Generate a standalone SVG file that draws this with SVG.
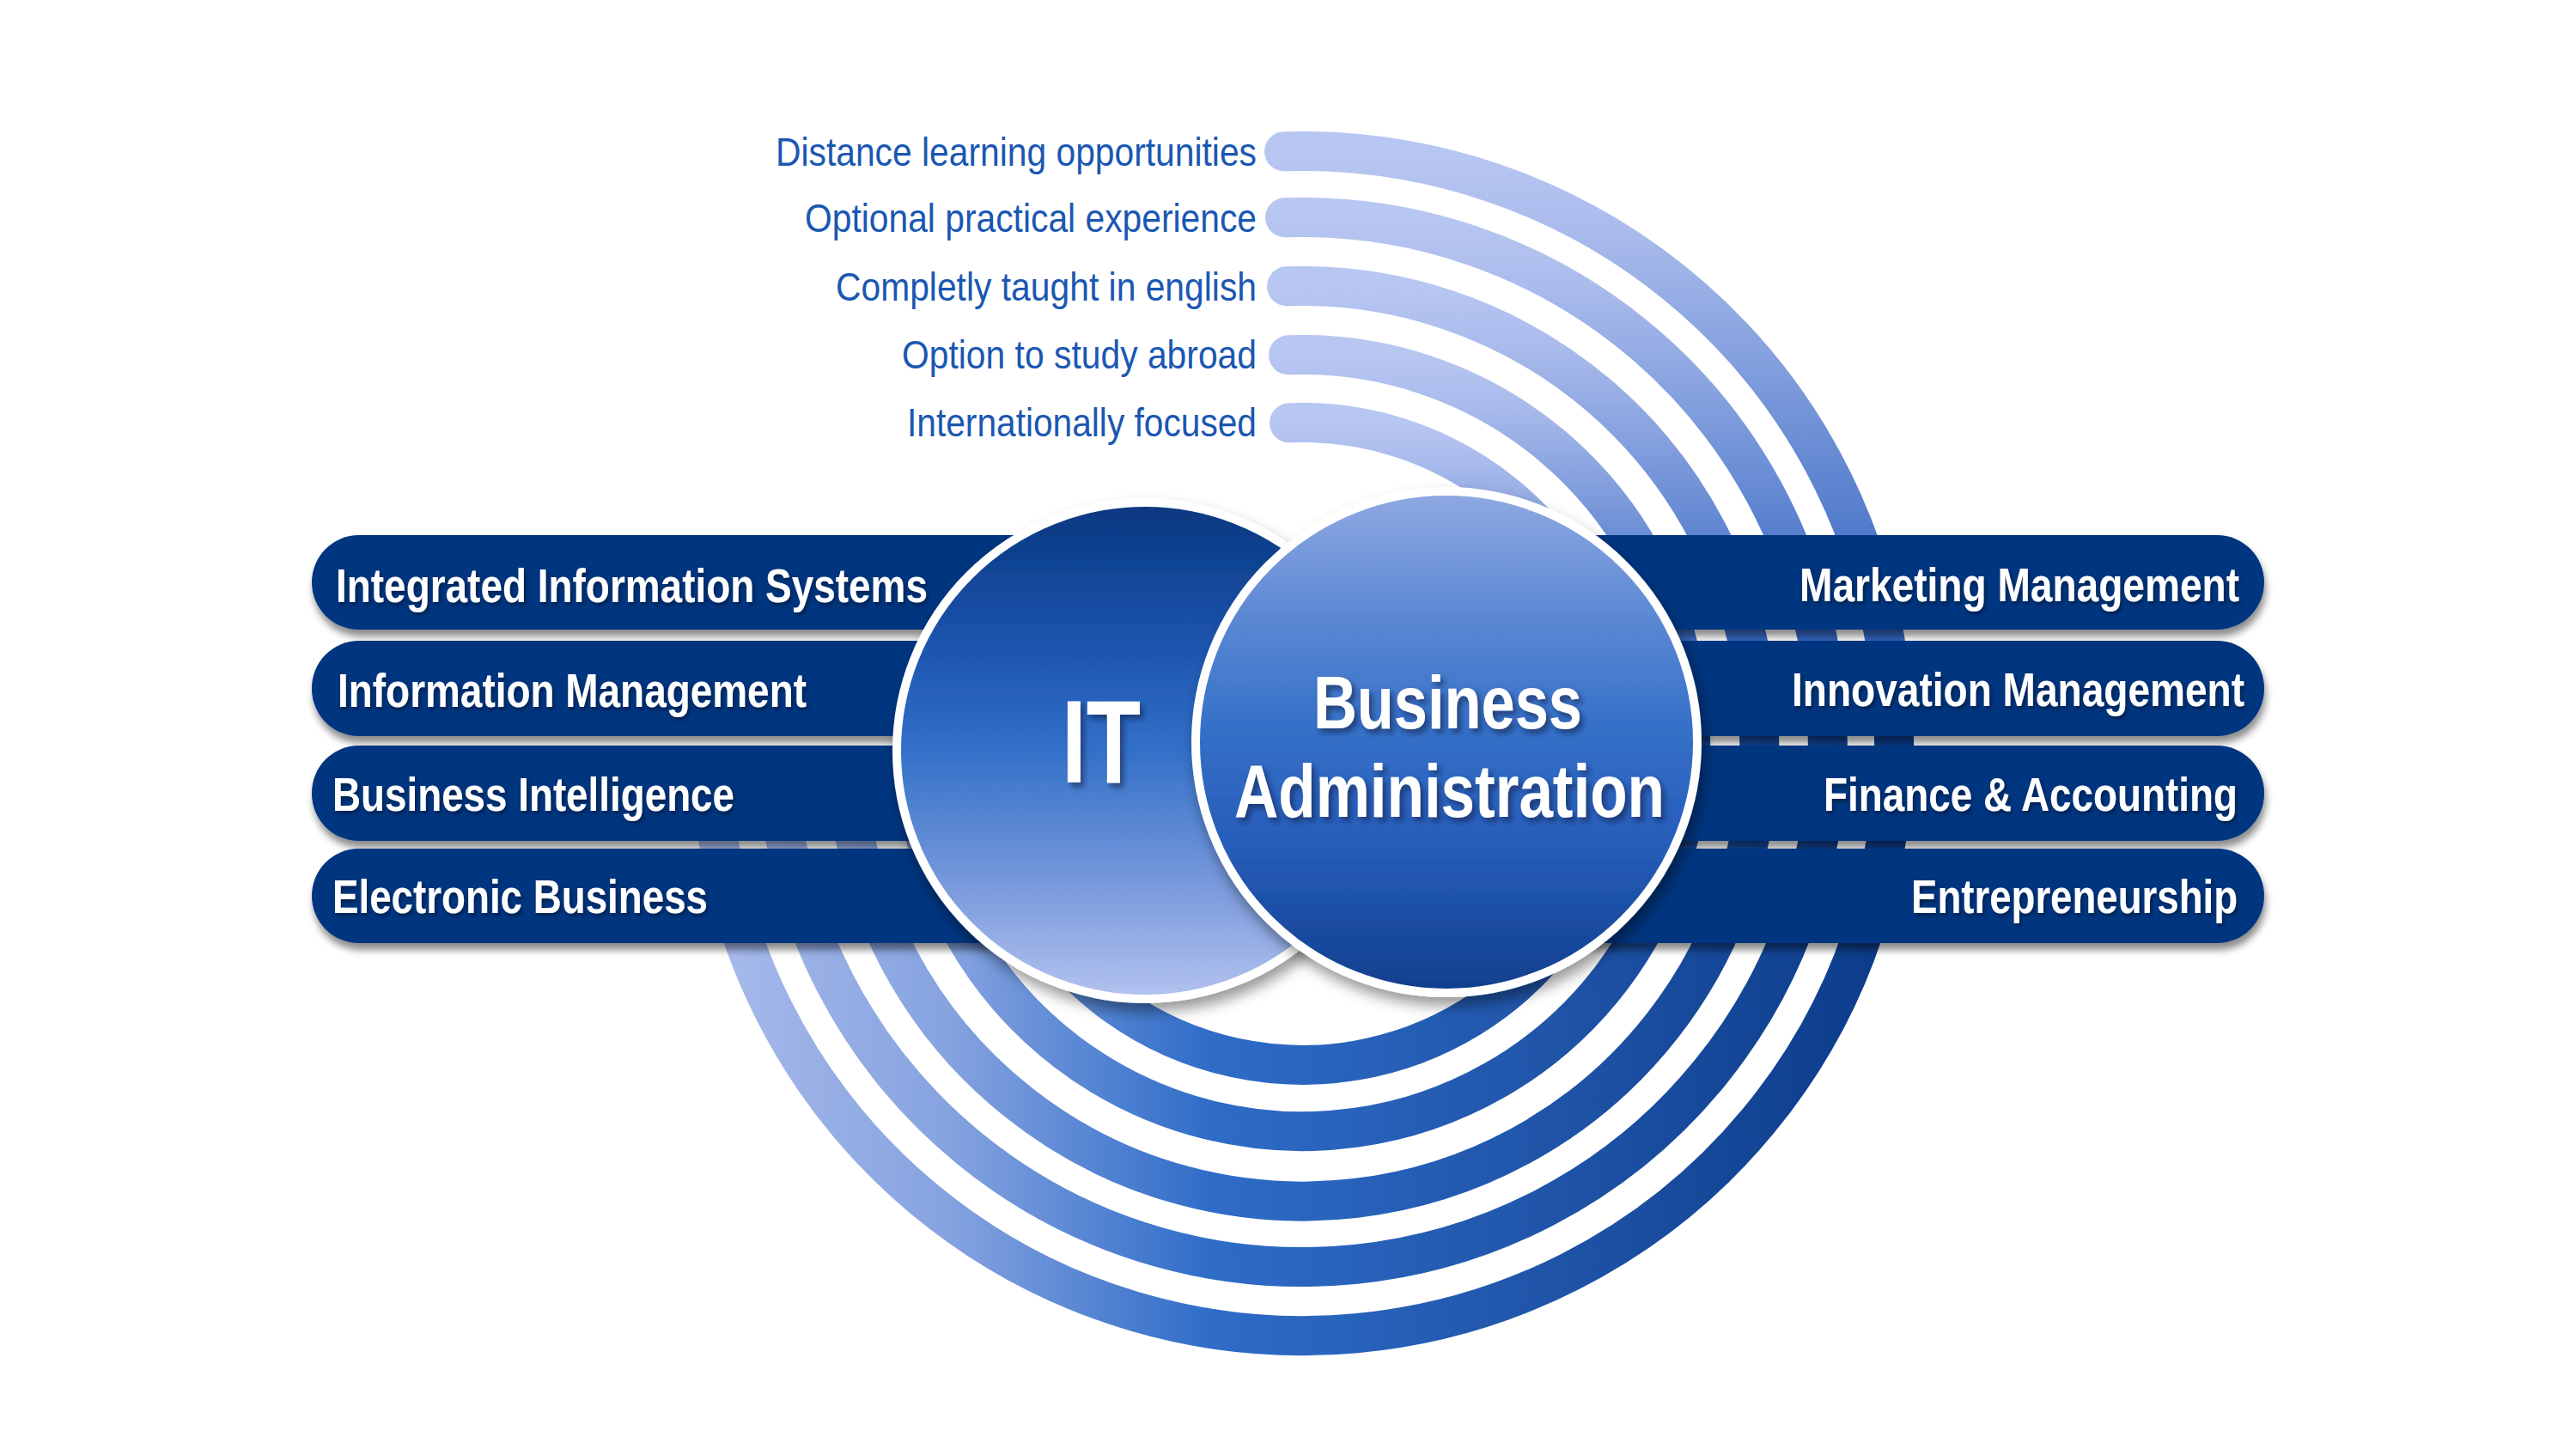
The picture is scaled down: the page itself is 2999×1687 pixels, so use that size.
<svg xmlns="http://www.w3.org/2000/svg" width="2999" height="1687" viewBox="0 0 2999 1687">
<defs>
<linearGradient id="gUp" x1="0" y1="0" x2="0" y2="1">
<stop offset="0" stop-color="#b8c6f2"/>
<stop offset="0.15" stop-color="#aabbec"/>
<stop offset="1" stop-color="#2259ba"/>
</linearGradient>
<linearGradient id="gLow" gradientUnits="userSpaceOnUse" x1="820" y1="0" x2="2230" y2="0">
<stop offset="0" stop-color="#a9bbeb"/>
<stop offset="0.2" stop-color="#86a3e0"/>
<stop offset="0.42" stop-color="#2e6cc8"/>
<stop offset="0.7" stop-color="#1f54a8"/>
<stop offset="1" stop-color="#0a3987"/>
</linearGradient>
<linearGradient id="gIT" x1="0" y1="0" x2="0" y2="1">
<stop offset="0" stop-color="#07377f"/>
<stop offset="0.3" stop-color="#1e56b0"/>
<stop offset="0.5" stop-color="#3370c8"/>
<stop offset="0.75" stop-color="#7396da"/>
<stop offset="1" stop-color="#b4c3f0"/>
</linearGradient>
<linearGradient id="gBA" x1="0" y1="0" x2="0" y2="1">
<stop offset="0" stop-color="#8fa9e2"/>
<stop offset="0.26" stop-color="#5a87d3"/>
<stop offset="0.47" stop-color="#3570c8"/>
<stop offset="0.7" stop-color="#275dba"/>
<stop offset="1" stop-color="#103f8e"/>
</linearGradient>
<filter id="shBar" x="-5%" y="-20%" width="110%" height="150%">
<feDropShadow dx="2" dy="8" stdDeviation="4" flood-color="#000" flood-opacity="0.45"/>
</filter>
<filter id="shCircle" x="-10%" y="-10%" width="125%" height="130%">
<feDropShadow dx="4" dy="10" stdDeviation="8" flood-color="#000" flood-opacity="0.4"/>
</filter>
<filter id="shText" x="-10%" y="-20%" width="125%" height="150%">
<feDropShadow dx="4" dy="5" stdDeviation="3" flood-color="#081a44" flood-opacity="0.6"/>
</filter>
<filter id="shText2" x="-5%" y="-20%" width="110%" height="150%">
<feDropShadow dx="2" dy="3" stdDeviation="2" flood-color="#000" flood-opacity="0.4"/>
</filter>
</defs>
<style>
.up{fill:none;stroke:url(#gUp);stroke-width:46;stroke-linecap:round}
.low{fill:none;stroke:url(#gLow);stroke-width:46;stroke-linecap:butt}
.bar{fill:#03357f}
.bt{font-family:"Liberation Sans Narrow","Arial Narrow","Liberation Sans",Arial,sans-serif;font-weight:bold;font-size:55px;fill:#ffffff}
.tt{font-family:"Liberation Sans Narrow","Arial Narrow","Liberation Sans",Arial,sans-serif;font-size:47px;fill:#1a57b2}
.ct{font-family:"Liberation Sans Narrow","Arial Narrow","Liberation Sans",Arial,sans-serif;font-weight:bold;fill:#ffffff}
</style>
<rect width="2999" height="1687" fill="#ffffff"/>

<g id="connectors">
<g id="arc-distance">
<path class="low" d="M 2201.9 800 A 689 689 0 1 1 829.6 925"/>
<path class="up" d="M 1495 176.3 A 689 689 0 0 1 2201.9 800"/>
</g>
<g id="arc-practical">
<path class="low" d="M 2124.5 800 A 612 612 0 1 1 906.9 925"/>
<path class="up" d="M 1496 253.3 A 612 612 0 0 1 2124.5 800"/>
</g>
<g id="arc-english">
<path class="low" d="M 2044 800 A 532 532 0 1 1 987.4 925"/>
<path class="up" d="M 1498 333.3 A 532 532 0 0 1 2044 800"/>
</g>
<g id="arc-abroad">
<path class="low" d="M 1963.3 800 A 452 452 0 1 1 1068 925"/>
<path class="up" d="M 1500 413.3 A 452 452 0 0 1 1963.3 800"/>
</g>
<g id="arc-international">
<path class="low" d="M 1883.3 800 A 373 373 0 1 1 1147.9 925"/>
<path class="up" d="M 1501 492.3 A 373 373 0 0 1 1883.3 800"/>
</g>
</g>

<g id="labels-top">
<text id="t-distance" class="tt" x="903" y="193" textLength="560" lengthAdjust="spacingAndGlyphs">Distance learning opportunities</text>
<text id="t-practical" class="tt" x="937" y="270" textLength="526" lengthAdjust="spacingAndGlyphs">Optional practical experience</text>
<text id="t-english" class="tt" x="973" y="350" textLength="490" lengthAdjust="spacingAndGlyphs">Completly taught in english</text>
<text id="t-abroad" class="tt" x="1050" y="429" textLength="413" lengthAdjust="spacingAndGlyphs">Option to study abroad</text>
<text id="t-international" class="tt" x="1056" y="508" textLength="407" lengthAdjust="spacingAndGlyphs">Internationally focused</text>
</g>

<g id="bars-left">
<g id="node-integrated-information-systems">
<rect class="bar" x="363" y="623" width="950" height="110" rx="55" filter="url(#shBar)"/>
<text class="bt" x="391" y="701" textLength="689" lengthAdjust="spacingAndGlyphs" filter="url(#shText2)">Integrated Information Systems</text>
</g>
<g id="node-information-management">
<rect class="bar" x="363" y="746" width="950" height="111" rx="55" filter="url(#shBar)"/>
<text class="bt" x="393" y="823" textLength="546" lengthAdjust="spacingAndGlyphs" filter="url(#shText2)">Information Management</text>
</g>
<g id="node-business-intelligence">
<rect class="bar" x="363" y="868" width="950" height="111" rx="55" filter="url(#shBar)"/>
<text class="bt" x="387" y="944" textLength="468" lengthAdjust="spacingAndGlyphs" filter="url(#shText2)">Business Intelligence</text>
</g>
<g id="node-electronic-business">
<rect class="bar" x="363" y="988" width="950" height="110" rx="55" filter="url(#shBar)"/>
<text class="bt" x="387" y="1063" textLength="437" lengthAdjust="spacingAndGlyphs" filter="url(#shText2)">Electronic Business</text>
</g>
</g>

<g id="bars-right">
<g id="node-marketing-management">
<rect class="bar" x="1700" y="623" width="936" height="110" rx="55" filter="url(#shBar)"/>
<text class="bt" x="2095" y="700" textLength="512" lengthAdjust="spacingAndGlyphs" filter="url(#shText2)">Marketing Management</text>
</g>
<g id="node-innovation-management">
<rect class="bar" x="1700" y="746" width="936" height="111" rx="55" filter="url(#shBar)"/>
<text class="bt" x="2086" y="822" textLength="527" lengthAdjust="spacingAndGlyphs" filter="url(#shText2)">Innovation Management</text>
</g>
<g id="node-finance-accounting">
<rect class="bar" x="1700" y="868" width="936" height="111" rx="55" filter="url(#shBar)"/>
<text class="bt" x="2123" y="944" textLength="482" lengthAdjust="spacingAndGlyphs" filter="url(#shText2)">Finance &amp; Accounting</text>
</g>
<g id="node-entrepreneurship">
<rect class="bar" x="1700" y="988" width="936" height="110" rx="55" filter="url(#shBar)"/>
<text class="bt" x="2225" y="1063" textLength="380" lengthAdjust="spacingAndGlyphs" filter="url(#shText2)">Entrepreneurship</text>
</g>
</g>

<g id="node-it">
<circle cx="1333" cy="874" r="289" fill="url(#gIT)" stroke="#ffffff" stroke-width="10" filter="url(#shCircle)"/>
<text class="ct" x="1236" y="911" font-size="137" textLength="92" lengthAdjust="spacingAndGlyphs" filter="url(#shText)">IT</text>
</g>

<g id="node-business-administration">
<circle cx="1684" cy="864" r="292" fill="url(#gBA)" stroke="#ffffff" stroke-width="10" filter="url(#shCircle)"/>
<text class="ct" x="1529" y="848" font-size="88" textLength="313" lengthAdjust="spacingAndGlyphs" filter="url(#shText)">Business</text>
<text class="ct" x="1437" y="951" font-size="88" textLength="501" lengthAdjust="spacingAndGlyphs" filter="url(#shText)">Administration</text>
</g>
</svg>
